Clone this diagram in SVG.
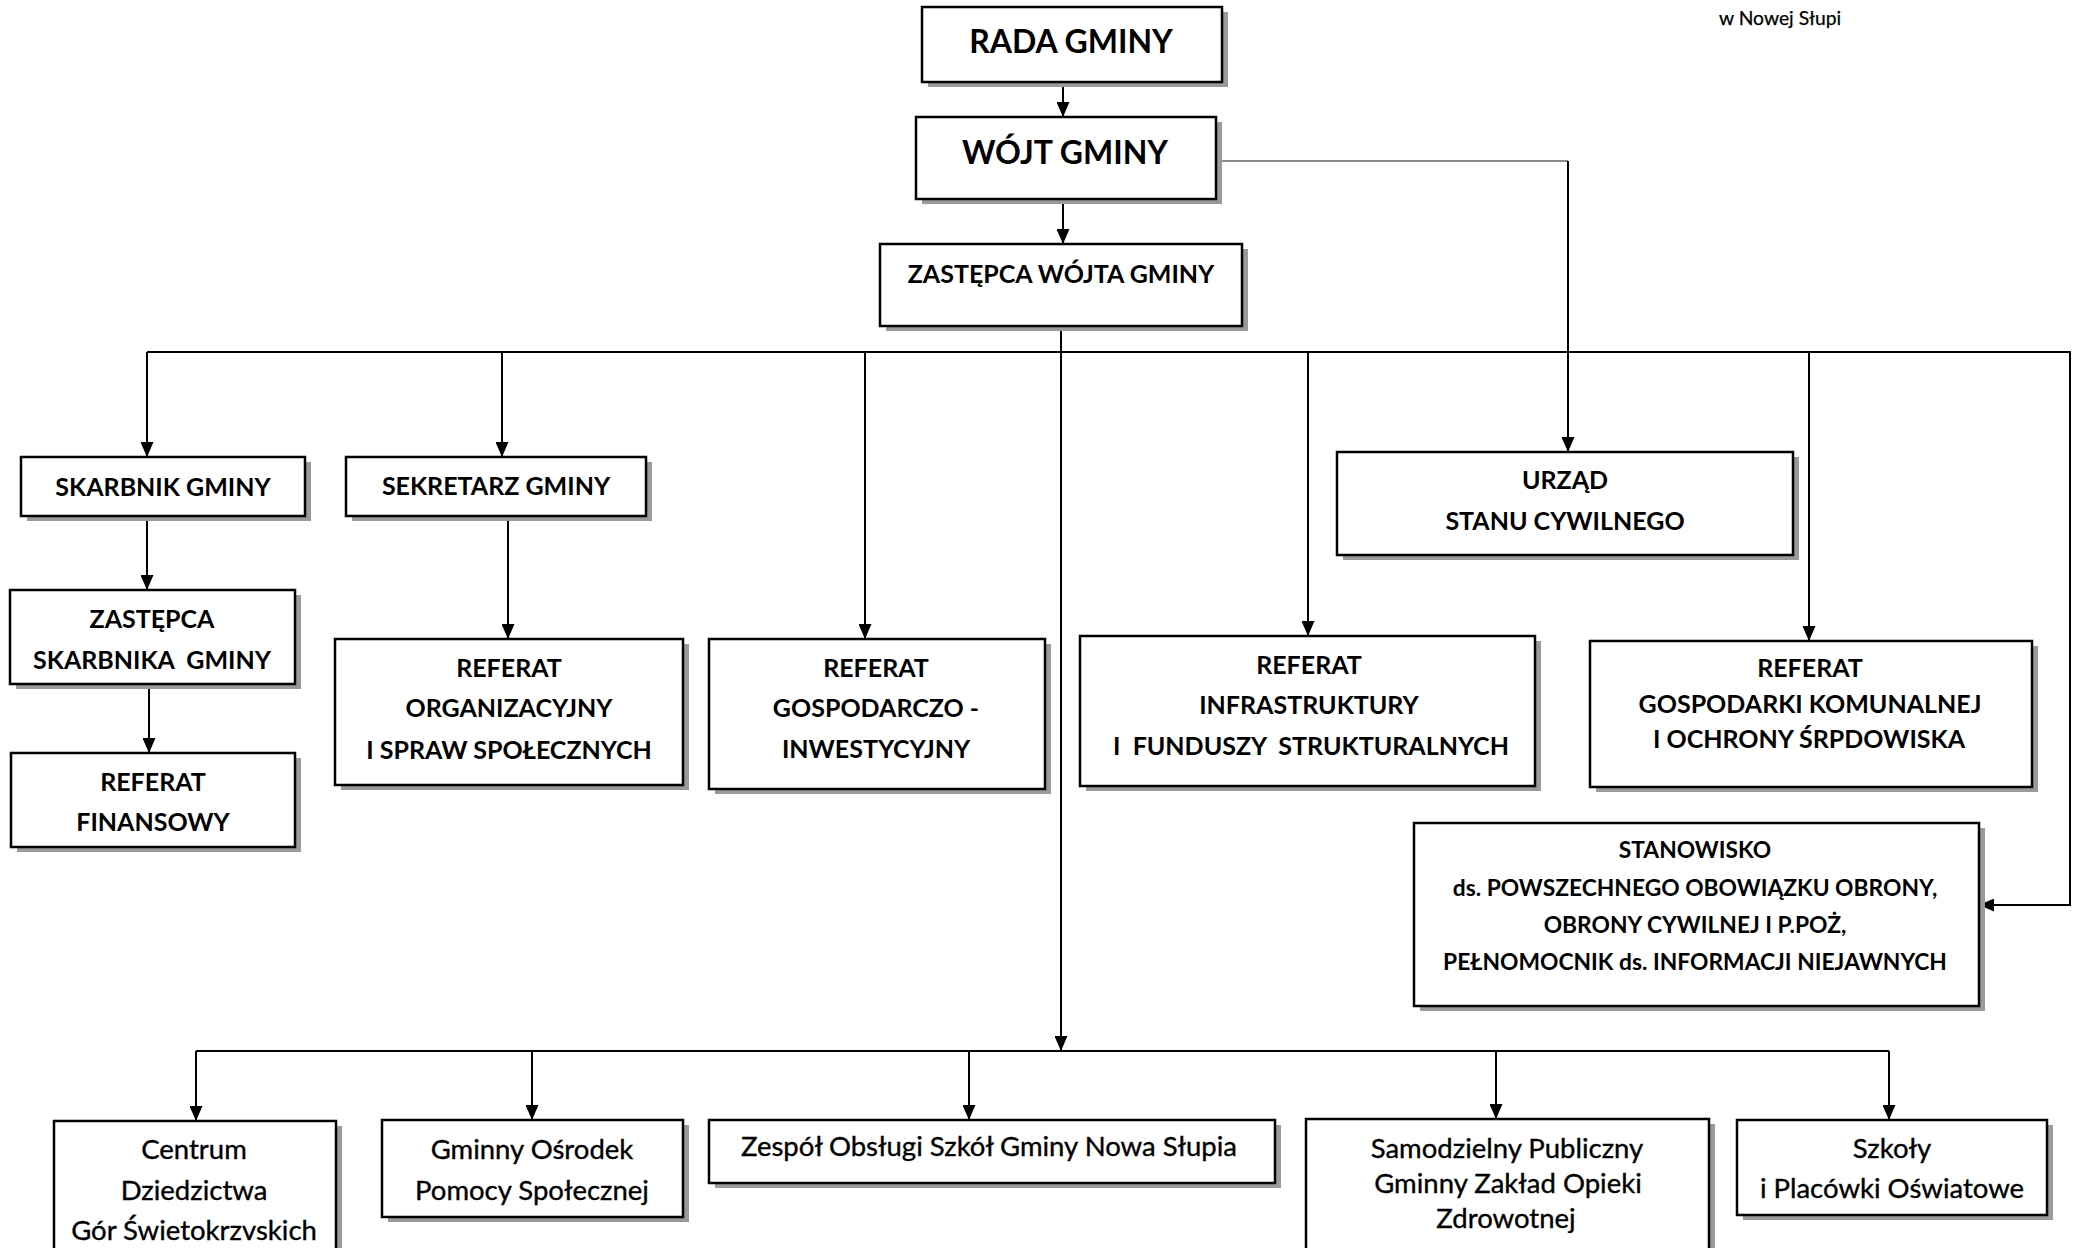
<svg xmlns="http://www.w3.org/2000/svg" width="2074" height="1248" viewBox="0 0 2074 1248">
<defs>
<marker id="ah" viewBox="0 0 15 13" refX="15" refY="6.5" markerWidth="15" markerHeight="13" markerUnits="userSpaceOnUse" orient="auto">
<path d="M0,0 L15,6.5 L0,13 z" fill="#000"/>
</marker>
<style>
.box{fill:#fff;stroke:#000;stroke-width:2.5}
.sh{fill:#9a9a9a}
.t{font-family:Lato,"Liberation Sans",sans-serif;font-weight:700;text-anchor:middle;fill:#000;font-size:25px}
.s{font-size:22.8px}
.r{font-weight:400;font-size:27.5px;stroke:#000;stroke-width:0.35}
.ln{stroke:#000;stroke-width:2;fill:none}
.thin{stroke:#666;stroke-width:1.5;fill:none}
</style>
</defs>
<rect width="2074" height="1248" fill="#fff"/>
<text x="1719" y="25" style="font-family:Lato,'Liberation Sans',sans-serif;font-size:19.3px;fill:#000;stroke:#000;stroke-width:0.25">w Nowej Słupi</text>

<g id="connectors">
<line class="ln" x1="1063" y1="82" x2="1063" y2="117" marker-end="url(#ah)"/>
<line class="ln" x1="1063" y1="199" x2="1063" y2="244" marker-end="url(#ah)"/>
<line class="thin" x1="1222" y1="161" x2="1568" y2="161"/>
<line class="ln" x1="1568" y1="161" x2="1568" y2="452" marker-end="url(#ah)"/>
<line class="ln" x1="1061" y1="326" x2="1061" y2="1051" marker-end="url(#ah)"/>
<path class="ln" d="M147,352 H2070 V905 H1979" marker-end="url(#ah)"/>
<line class="ln" x1="147" y1="352" x2="147" y2="457" marker-end="url(#ah)"/>
<line class="ln" x1="502" y1="352" x2="502" y2="457" marker-end="url(#ah)"/>
<line class="ln" x1="865" y1="352" x2="865" y2="639" marker-end="url(#ah)"/>
<line class="ln" x1="1308" y1="352" x2="1308" y2="636" marker-end="url(#ah)"/>
<line class="ln" x1="1809" y1="352" x2="1809" y2="641" marker-end="url(#ah)"/>
<line class="ln" x1="147" y1="516" x2="147" y2="590" marker-end="url(#ah)"/>
<line class="ln" x1="149" y1="684" x2="149" y2="753" marker-end="url(#ah)"/>
<line class="ln" x1="508" y1="516" x2="508" y2="639" marker-end="url(#ah)"/>
<line class="ln" x1="196" y1="1051" x2="1889" y2="1051"/>
<line class="ln" x1="196" y1="1051" x2="196" y2="1121" marker-end="url(#ah)"/>
<line class="ln" x1="532" y1="1051" x2="532" y2="1120" marker-end="url(#ah)"/>
<line class="ln" x1="969" y1="1051" x2="969" y2="1120" marker-end="url(#ah)"/>
<line class="ln" x1="1496" y1="1051" x2="1496" y2="1119" marker-end="url(#ah)"/>
<line class="ln" x1="1889" y1="1051" x2="1889" y2="1120" marker-end="url(#ah)"/>
</g>

<g id="rada">
<rect class="sh" x="928" y="12" width="300" height="75"/>
<rect class="box" x="922" y="7" width="300" height="75"/>
<text class="t" x="1071" y="53" style="font-size:32px">RADA GMINY</text>
</g>
<g id="wojt">
<rect class="sh" x="922" y="122" width="300" height="82"/>
<rect class="box" x="916" y="117" width="300" height="82"/>
<text class="t" x="1065" y="164" style="font-size:32px">WÓJT GMINY</text>
</g>
<g id="zastepca">
<rect class="sh" x="886" y="249" width="362" height="82"/>
<rect class="box" x="880" y="244" width="362" height="82"/>
<text class="t" x="1061" y="283">ZASTĘPCA WÓJTA GMINY</text>
</g>
<g id="skarbnik">
<rect class="sh" x="27" y="462" width="284" height="59"/>
<rect class="box" x="21" y="457" width="284" height="59"/>
<text class="t" x="163" y="496">SKARBNIK GMINY</text>
</g>
<g id="sekretarz">
<rect class="sh" x="352" y="462" width="300" height="59"/>
<rect class="box" x="346" y="457" width="300" height="59"/>
<text class="t" x="496" y="495">SEKRETARZ GMINY</text>
</g>
<g id="zastepca-skarbnika">
<rect class="sh" x="16" y="595" width="285" height="94"/>
<rect class="box" x="10" y="590" width="285" height="94"/>
<text class="t" x="152" y="628">ZASTĘPCA</text>
<text class="t" x="152" y="669" xml:space="preserve">SKARBNIKA  GMINY</text>
</g>
<g id="referat-finansowy">
<rect class="sh" x="17" y="758" width="284" height="94"/>
<rect class="box" x="11" y="753" width="284" height="94"/>
<text class="t" x="153" y="791">REFERAT</text>
<text class="t" x="153" y="831">FINANSOWY</text>
</g>
<g id="referat-organizacyjny">
<rect class="sh" x="341" y="644" width="348" height="146"/>
<rect class="box" x="335" y="639" width="348" height="146"/>
<text class="t" x="509" y="677">REFERAT</text>
<text class="t" x="509" y="717">ORGANIZACYJNY</text>
<text class="t" x="509" y="759">I SPRAW SPOŁECZNYCH</text>
</g>
<g id="referat-gospodarczo">
<rect class="sh" x="715" y="644" width="336" height="150"/>
<rect class="box" x="709" y="639" width="336" height="150"/>
<text class="t" x="876" y="677">REFERAT</text>
<text class="t" x="876" y="717">GOSPODARCZO -</text>
<text class="t" x="876" y="758">INWESTYCYJNY</text>
</g>
<g id="urzad">
<rect class="sh" x="1343" y="457" width="456" height="103"/>
<rect class="box" x="1337" y="452" width="456" height="103"/>
<text class="t" x="1565" y="489">URZĄD</text>
<text class="t" x="1565" y="530">STANU CYWILNEGO</text>
</g>
<g id="referat-infrastruktury">
<rect class="sh" x="1086" y="641" width="455" height="150"/>
<rect class="box" x="1080" y="636" width="455" height="150"/>
<text class="t" x="1309" y="674">REFERAT</text>
<text class="t" x="1309" y="714">INFRASTRUKTURY</text>
<text class="t" x="1311" y="755" xml:space="preserve">I  FUNDUSZY  STRUKTURALNYCH</text>
</g>
<g id="referat-komunalny">
<rect class="sh" x="1596" y="646" width="442" height="146"/>
<rect class="box" x="1590" y="641" width="442" height="146"/>
<text class="t" x="1810" y="677">REFERAT</text>
<text class="t" x="1810" y="713">GOSPODARKI KOMUNALNEJ</text>
<text class="t" x="1809" y="748">I OCHRONY ŚRPDOWISKA</text>
</g>
<g id="stanowisko">
<rect class="sh" x="1420" y="828" width="565" height="183"/>
<rect class="box" x="1414" y="823" width="565" height="183"/>
<text class="t s" x="1695" y="858">STANOWISKO</text>
<text class="t s" x="1695" y="896">ds. POWSZECHNEGO OBOWIĄZKU OBRONY,</text>
<text class="t s" x="1695" y="933">OBRONY CYWILNEJ I P.POŻ,</text>
<text class="t s" x="1695" y="970">PEŁNOMOCNIK ds. INFORMACJI NIEJAWNYCH</text>
</g>
<g id="centrum">
<rect class="sh" x="60" y="1126" width="282" height="140"/>
<rect class="box" x="54" y="1121" width="282" height="140"/>
<text class="t r" x="194" y="1159">Centrum</text>
<text class="t r" x="194" y="1200">Dziedzictwa</text>
<text class="t r" x="194" y="1240">Gór Świetokrzvskich</text>
</g>
<g id="gops">
<rect class="sh" x="388" y="1125" width="301" height="97"/>
<rect class="box" x="382" y="1120" width="301" height="97"/>
<text class="t r" x="532" y="1159">Gminny Ośrodek</text>
<text class="t r" x="532" y="1200">Pomocy Społecznej</text>
</g>
<g id="zespol">
<rect class="sh" x="715" y="1125" width="566" height="63"/>
<rect class="box" x="709" y="1120" width="566" height="63"/>
<text class="t r" x="989" y="1156">Zespół Obsługi Szkół Gminy Nowa Słupia</text>
</g>
<g id="spzoz">
<rect class="sh" x="1312" y="1124" width="403" height="140"/>
<rect class="box" x="1306" y="1119" width="403" height="140"/>
<text class="t r" x="1507" y="1158">Samodzielny Publiczny</text>
<text class="t r" x="1508" y="1193">Gminny Zakład Opieki</text>
<text class="t r" x="1506" y="1228">Zdrowotnej</text>
</g>
<g id="szkoly">
<rect class="sh" x="1743" y="1125" width="310" height="95"/>
<rect class="box" x="1737" y="1120" width="310" height="95"/>
<text class="t r" x="1892" y="1158">Szkoły</text>
<text class="t r" x="1892" y="1198">i Placówki Oświatowe</text>
</g>
</svg>
